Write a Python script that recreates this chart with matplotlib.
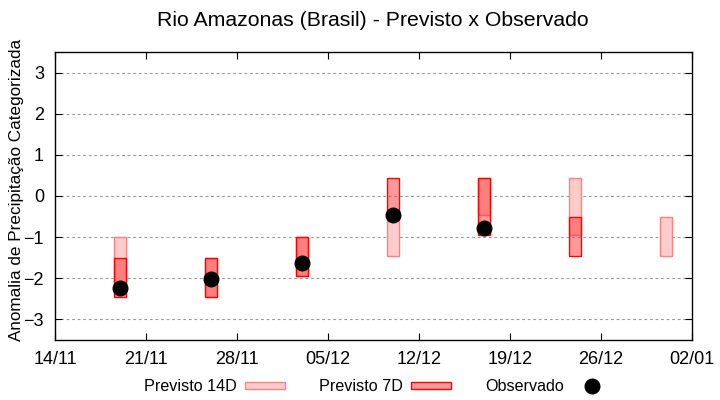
import numpy as np
import pandas as pd
import matplotlib
matplotlib.use("Agg")
import matplotlib.pyplot as plt
import matplotlib.dates as mdates
from matplotlib.patches import Patch
from matplotlib.lines import Line2D

plt.rcParams['font.family'] = ['Liberation Sans', 'DejaVu Sans']

# semanas alvo
datas = pd.to_datetime(['2019-11-19', '2019-11-26', '2019-12-03', '2019-12-10',
                        '2019-12-17', '2019-12-24', '2019-12-31'])
# previsto 14 dias (limite superior / inferior)
p14_sup = [-1.00, -1.50, -1.00, -0.45, 0.43, 0.43, -0.52]
p14_inf = [-2.20, -2.45, -1.95, -1.45, -0.45, -0.96, -1.45]
# previsto 7 dias
p7_sup = [-1.50, -1.50, -1.00, 0.43, 0.43, -0.52, np.nan]
p7_inf = [-2.45, -2.45, -1.95, -0.45, -0.96, -1.45, np.nan]
# observado
obs = [-2.23, -2.01, -1.62, -0.46, -0.77, np.nan, np.nan]

cor14_face = '#FFCCCC'
cor14_borda = '#FF8080'
cor7_face = (1.0, 0.2, 0.2, 0.5)
cor7_borda = '#FF0000'

fig = plt.figure(figsize=(7.2, 4.0), dpi=100)
ax = fig.add_axes([0.0764, 0.15, 0.8847, 0.72])

larg = 0.95
h14 = np.array(p14_sup) - np.array(p14_inf)
h7 = np.array(p7_sup) - np.array(p7_inf)
ax.bar(datas, h14, bottom=p14_inf, width=larg, facecolor=cor14_face,
       edgecolor=cor14_borda, linewidth=1.0, zorder=2)
ax.bar(datas, h7, bottom=p7_inf, width=larg, facecolor=cor7_face,
       edgecolor=cor7_borda, linewidth=1.0, zorder=3)
ax.plot(datas, obs, 'o', color='black', markersize=10.5, zorder=4)

ax.set_ylim(-3.5, 3.5)
ax.set_yticks([-3, -2, -1, 0, 1, 2, 3])
ax.set_xlim(pd.Timestamp('2019-11-14'), pd.Timestamp('2020-01-02'))
ax.set_xticks(pd.date_range('2019-11-14', '2020-01-02', freq='7D'))
ax.xaxis.set_major_formatter(mdates.DateFormatter('%d/%m'))

ax.yaxis.grid(True, color='#999999', linestyle=(0, (2.5, 2.5)), linewidth=0.8)
ax.set_axisbelow(True)
ax.tick_params(direction='in', top=True, right=True, length=5, width=0.8,
               labelsize=13, pad=8)
for s in ax.spines.values():
    s.set_linewidth(1.0)

ax.set_ylabel('Anomalia de Precipitação Categorizada', fontsize=12.3)
ax.yaxis.set_label_coords(-0.049, 0.52)
fig.text(0.518, 0.95, 'Rio Amazonas (Brasil) - Previsto x Observado',
         fontsize=15.3, ha='center', va='center')

handles = [
    Patch(facecolor=cor14_face, edgecolor=cor14_borda, linewidth=1.0),
    Patch(facecolor=cor7_face, edgecolor=cor7_borda, linewidth=1.0),
    Line2D([], [], marker='o', color='black', linestyle='none', markersize=10.5),
]
fig.legend(handles, ['Previsto 14D', 'Previsto 7D', 'Observado'],
           loc='center', bbox_to_anchor=(0.525, 0.033), ncol=3, frameon=False,
           markerfirst=False, fontsize=11.6, handlelength=2.5, handleheight=0.38,
           handletextpad=0.5, columnspacing=2.1)

fig.savefig('out.png', dpi=100)
